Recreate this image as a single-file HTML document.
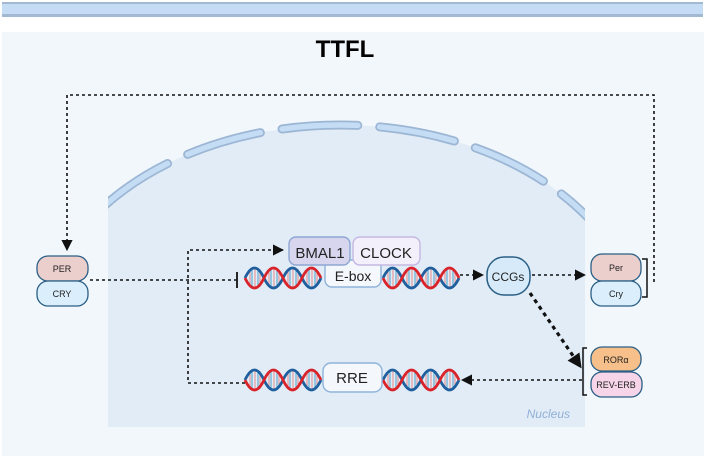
<!DOCTYPE html>
<html><head><meta charset="utf-8"><style>
html,body{margin:0;padding:0;background:#fff;width:706px;height:465px;overflow:hidden}
svg{display:block}
text{font-family:"Liberation Sans",sans-serif}
</style></head><body>
<svg width="706" height="465" viewBox="0 0 706 465" xmlns="http://www.w3.org/2000/svg">
<defs>
<clipPath id="nc"><rect x="108" y="100" width="477" height="327"/></clipPath>
<marker id="ah" viewBox="0 0 10 10" refX="9" refY="5" markerWidth="7" markerHeight="7" orient="auto"><path d="M0,0L10,5L0,10z" fill="#111"/></marker>
<marker id="ah2" viewBox="0 0 10 10" refX="8" refY="5" markerWidth="4.5" markerHeight="4.5" orient="auto"><path d="M0,0L10,5L0,10z" fill="#111"/></marker>
<g id="dna">
<g stroke="#e58a8a" stroke-width="1"><path d="M5,3v14M10,1v18M15,1v18M24,1v18M29,1v18M34,3v14M43,3v14M48,1v18M53,1v18M62,1v18M67,1v18M72,3v14"/></g>
<g stroke="#4aa0c8" stroke-width="1"><path d="M7,2v16M13,1v18M26,1v18M32,2v16M45,2v16M51,1v18M64,1v18M70,2v16"/></g>
<path d="M0,10 Q9.5,-10 19,10 T38,10 T57,10 T76,10" fill="none" stroke="#1f5f9e" stroke-width="2.8"/>
<path d="M0,10 Q9.5,30 19,10 T38,10 T57,10 T76,10" fill="none" stroke="#d9232a" stroke-width="2.8"/>
</g>
</defs>
<rect x="0" y="0" width="706" height="465" fill="#fff"/>
<rect x="2" y="2" width="701" height="14" fill="#c5ddf4"/>
<rect x="2" y="2" width="701" height="2" fill="#a3b9d3"/>
<rect x="2" y="14" width="701" height="3" fill="#a3b9d3"/>
<rect x="2" y="32" width="702" height="424" fill="#f2f7fc"/>
<text x="345" y="57" font-size="24" font-weight="bold" text-anchor="middle" fill="#000">TTFL</text>
<g clip-path="url(#nc)">
<ellipse cx="340" cy="337" rx="300" ry="212" fill="#e1ecf7"/>
<rect x="108" y="330" width="477" height="97" fill="#e1ecf7"/>
<ellipse cx="340" cy="337" rx="300" ry="212" fill="none" stroke="#9cb6d4" stroke-width="9" stroke-linecap="round" stroke-dasharray="76 22" stroke-dashoffset="19"/>
<ellipse cx="340" cy="337" rx="300" ry="212" fill="none" stroke="#c4dcf4" stroke-width="5.5" stroke-linecap="round" stroke-dasharray="76 22" stroke-dashoffset="19"/>
</g>
<text x="570" y="418" font-size="12" font-style="italic" text-anchor="end" fill="#8fb0d6">Nucleus</text>
<g fill="none" stroke="#111" stroke-width="1.6" stroke-dasharray="3 3">
<path d="M654,282 V95 H67 V250" marker-end="url(#ah)"/>
<path d="M90,280 H236"/>
<path d="M245,383 H188 V250 H283" marker-end="url(#ah)"/>
<path d="M460,275 H483" marker-end="url(#ah)"/>
<path d="M532,275 H585" marker-end="url(#ah)"/>
<path d="M582,380 H462" marker-end="url(#ah)"/>
</g>
<path d="M530,293 L580,366" stroke="#111" stroke-width="3.2" stroke-dasharray="4 4" fill="none" marker-end="url(#ah2)"/>
<path d="M237,272 V288" stroke="#111" stroke-width="1.8"/>
<use href="#dna" x="245" y="268"/>
<use href="#dna" x="383" y="268"/>
<use href="#dna" x="245" y="370"/>
<use href="#dna" x="383" y="370"/>
<rect x="325" y="260" width="56" height="27" rx="7" fill="#f4f8fd" stroke="#8fb3da" stroke-width="1.4"/>
<text x="353" y="281" font-size="14" text-anchor="middle" fill="#222">E-box</text>
<rect x="289" y="237" width="61" height="28" rx="7" fill="#d7d6ee" stroke="#8fa6d3" stroke-width="1.4"/>
<text x="320" y="258" font-size="15" text-anchor="middle" fill="#222">BMAL1</text>
<rect x="353" y="237" width="67" height="28" rx="7" fill="#f3effb" stroke="#c4b8e2" stroke-width="1.4"/>
<text x="386" y="258" font-size="15" text-anchor="middle" fill="#222">CLOCK</text>
<rect x="323" y="363" width="59" height="29" rx="8" fill="#f4f8fd" stroke="#8fb3da" stroke-width="1.4"/>
<text x="352" y="383" font-size="15" text-anchor="middle" fill="#222">RRE</text>
<rect x="487" y="257" width="43" height="38" rx="17" fill="#d6eaf9" stroke="#2b5f86" stroke-width="1.5"/>
<text x="508" y="281" font-size="12" text-anchor="middle" fill="#222">CCGs</text>
<rect x="37" y="256" width="51" height="25" rx="11" fill="#ebcfcd" stroke="#2b5f86" stroke-width="1.3"/>
<text x="62" y="272" font-size="9" text-anchor="middle" fill="#222">PER</text>
<rect x="37" y="281" width="51" height="25" rx="11" fill="#dbeefb" stroke="#2b5f86" stroke-width="1.3"/>
<text x="62" y="297" font-size="9" text-anchor="middle" fill="#222">CRY</text>
<rect x="591" y="254" width="50" height="27" rx="11" fill="#ebcfcd" stroke="#2b5f86" stroke-width="1.3"/>
<text x="616" y="271" font-size="9" text-anchor="middle" fill="#222">Per</text>
<rect x="591" y="281" width="50" height="25" rx="11" fill="#dbeefb" stroke="#2b5f86" stroke-width="1.3"/>
<text x="616" y="297" font-size="9" text-anchor="middle" fill="#222">Cry</text>
<path d="M642,259 H647 V297 H642" fill="none" stroke="#111" stroke-width="1.5"/>
<rect x="591" y="347" width="50" height="24" rx="11" fill="#f7c08a" stroke="#2b5f86" stroke-width="1.3"/>
<text x="616" y="363" font-size="9" text-anchor="middle" fill="#222">RORα</text>
<rect x="591" y="372" width="51" height="25" rx="11" fill="#f6d5e8" stroke="#2b5f86" stroke-width="1.3"/>
<text x="616" y="388" font-size="9" text-anchor="middle" fill="#222">REV-ERB</text>
<path d="M587,348 H583 V395 H587" fill="none" stroke="#111" stroke-width="1.5"/>
</svg>
</body></html>
